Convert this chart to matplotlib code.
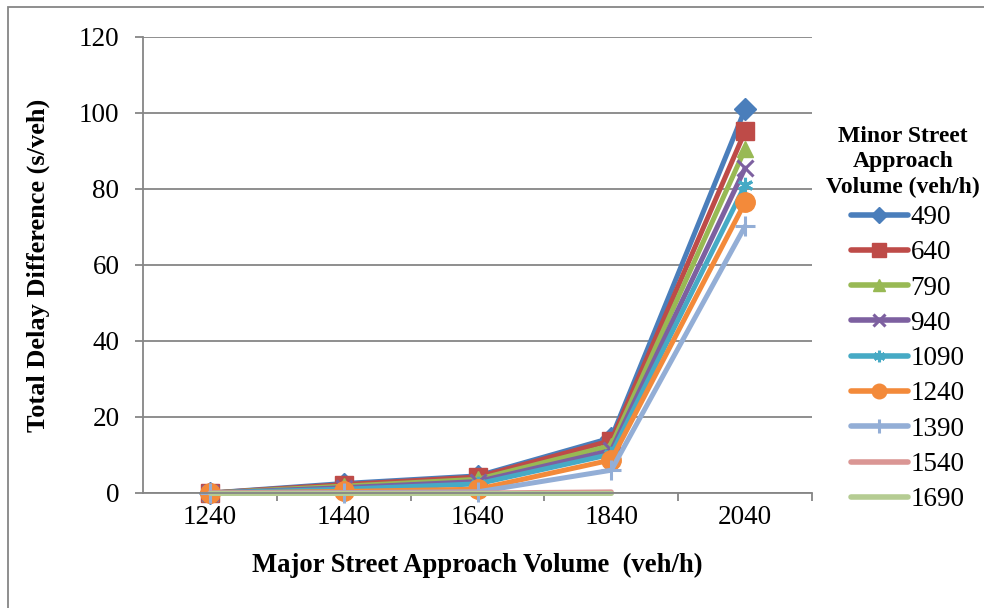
import numpy as np
import matplotlib
matplotlib.use('Agg')
import matplotlib.pyplot as plt
from matplotlib.patches import Rectangle

plt.rcParams['font.family'] = ['Liberation Serif', 'DejaVu Serif']

# major street volumes (categories)
major = ['1240', '1440', '1640', '1840', '2040']

# total delay difference per minor street volume
d490 = [0, 2.5, 4.5, 14.5, 101]
d640 = [0, 2.2, 4.2, 13.8, 95.2]
d790 = [0, 1.8, 3.6, 12.5, 90.5]
d940 = [0, 1.4, 3.0, 11.2, 85.5]
d1090 = [0, 1.0, 2.4, 10.2, 81]
d1240 = [0, 0.4, 1.0, 8.7, 76.5]
d1390 = [0, 0.1, 0.3, 6.0, 70.2]
d1540 = [0, 0, 0, 0.3, np.nan]
d1690 = [0, 0, 0, 0, np.nan]

minor = ['490', '640', '790', '940', '1090', '1240', '1390', '1540', '1690']
series = [d490, d640, d790, d940, d1090, d1240, d1390, d1540, d1690]
colors = ['#4A7EBB', '#BE4B48', '#98B954', '#7D60A0', '#46AAC5',
          '#F38A3A', '#93AED6', '#DA9694', '#B5CC93']
markers = ['D', 's', '^', 'x', (6, 2, 0), 'o', '+', None, None]
msizes = [11, 13, 12, 11, 11, 14, 14, 0, 0]

fig = plt.figure(figsize=(9.84, 6.08), dpi=100)
ax = fig.add_axes([143/984, 1 - 493/608, (812 - 143)/984, (493 - 37)/608])

x = np.arange(len(major))
for vals, lab, c, m, ms in zip(series, minor, colors, markers, msizes):
    ax.plot(x, vals, color=c, lw=3.6, marker=m, markersize=ms,
            markeredgewidth=2.2 if m in ('x', '+', (6, 2, 0)) else 1,
            markeredgecolor=c, markerfacecolor=c, label=lab,
            solid_capstyle='round', clip_on=False)

ax.set_xlim(-0.5, len(major) - 0.5)
ax.set_ylim(0, 120)
ax.set_yticks(np.arange(0, 121, 20))
ax.set_xticks(x)
ax.set_xticklabels(major)
ax.set_xticks(np.arange(0.5, len(major), 1), minor=True)
ax.yaxis.grid(True, color='#868686', lw=1.3)
ax.set_axisbelow(True)

grey = '#868686'
for s in ['top', 'right']:
    ax.spines[s].set_visible(False)
for s in ['left', 'bottom']:
    ax.spines[s].set_color(grey)
    ax.spines[s].set_linewidth(1.3)
ax.tick_params(axis='y', length=6, width=1.3, color=grey, labelsize=19.5, pad=11)
ax.tick_params(axis='x', which='major', length=0, labelsize=19.5, pad=9)
ax.tick_params(axis='x', which='minor', length=6, width=1.3, color=grey)

fig.text(38/984, 1 - 265/608, 'Total Delay Difference (s/veh)', rotation=90,
         ha='center', va='center', fontsize=19, fontweight='bold')
fig.text(477/984, 1 - 565/608, 'Major Street Approach Volume  (veh/h)',
         ha='center', va='center', fontsize=19.2, fontweight='bold')

fig.text(903/984, 1 - 162/608, 'Minor Street\nApproach\nVolume (veh/h)',
         ha='center', va='center', fontsize=17, fontweight='bold',
         linespacing=1.3)

leg = ax.legend(loc='upper left', bbox_to_anchor=(851/984, 1 - 205/608),
                bbox_transform=fig.transFigure, frameon=False, fontsize=19.5,
                handlelength=2.1, handletextpad=0.1, labelspacing=0.38,
                borderaxespad=0, borderpad=0, markerscale=0.75)
for h in leg.legend_handles:
    h.set_linewidth(4)

fig.patches.append(Rectangle((8/984, -0.1), 1.1, 0.1 + (1 - 7/608), fill=False,
                             edgecolor='#868686', lw=1.3,
                             transform=fig.transFigure, figure=fig))

fig.savefig('out.png', dpi=100)
